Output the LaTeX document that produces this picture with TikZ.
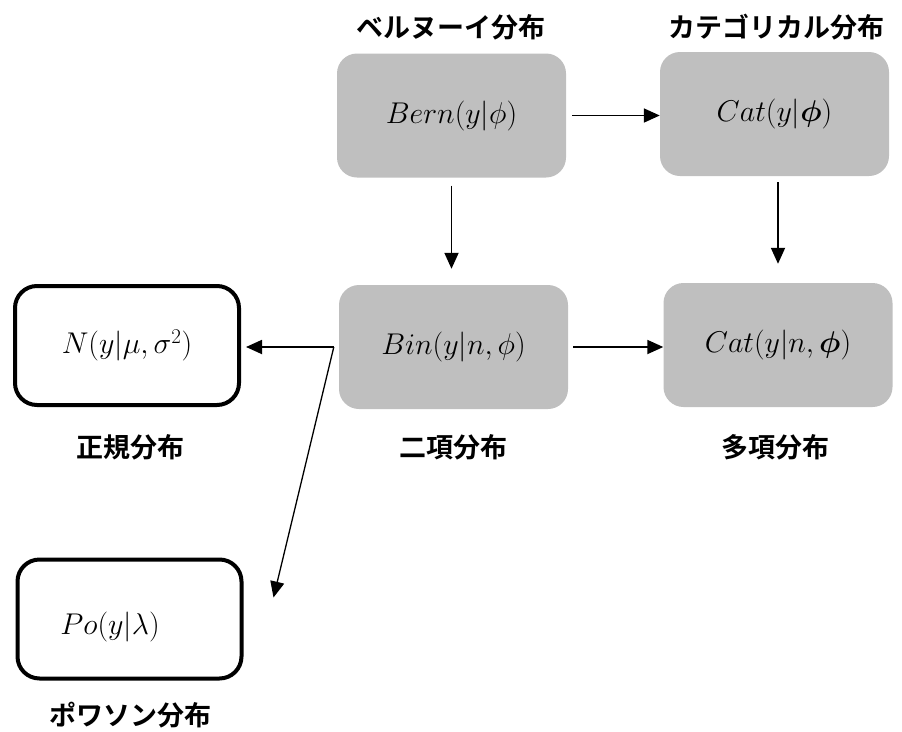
\RequirePackage{fix-cm}
\documentclass[tikz,border=0pt]{standalone}
\usepackage{amsmath,amssymb}
\usepackage{fontspec}
\newfontfamily\jp{Noto Sans CJK JP}[BoldFont={Noto Sans CJK JP Bold}]
\usetikzlibrary{arrows.meta,calc}
\definecolor{boxgray}{HTML}{BFBFBF}
\begin{document}
\begin{tikzpicture}[x=1pt,y=-1pt,
  mtext/.style={inner sep=0pt, font=\fontsize{30}{36}\selectfont},
  graybox/.style={mtext, fill=boxgray, rounded corners=20pt, minimum width=229pt, minimum height=124pt},
  whitebox/.style={mtext, draw=black, line width=4pt, fill=white, rounded corners=22pt, minimum width=224pt, minimum height=119pt},
  lbl/.style={inner sep=0pt, font=\jp\bfseries\fontsize{27}{32}\selectfont},
  conn/.style={line width=1.8pt, -{Triangle[length=16pt,width=14pt]}},
]
\useasboundingbox (0,0) rectangle (902,731);

\node[graybox] (bern) at (451.5,115.5) {$Bern(y|\phi)$};
\node[graybox] (cat) at (774.5,114) {$Cat(y|\boldsymbol{\phi})$};
\node[graybox] (bin) at (453.5,347) {$Bin(y|n,\phi)$};
\node[graybox] (catn) at (778,345) {$Cat(y|n,\boldsymbol{\phi})$};
\node[whitebox] (norm) at (127,345.5) {$N(y|\mu,\sigma^2)$};
\node[whitebox] (po) at (129.5,619) {};
\node[mtext] (potext) at (110,627) {$Po(y|\lambda)$};

\node[lbl] (lbern) at (451,27) {ベルヌーイ分布};
\node[lbl] (lcat) at (776,27) {カテゴリカル分布};
\node[lbl] (lnorm) at (130,447) {正規分布};
\node[lbl] (lbin) at (453,447) {二項分布};
\node[lbl] (lcatn) at (775,447) {多項分布};
\node[lbl] (lpo) at (130,715) {ポワソン分布};

\draw[conn, shorten <=6pt] (bern.east) -- (bern.east -| cat.west);
\draw[conn, shorten <=8pt, shorten >=16pt] (bern.south) -- (bern.south |- bin.north);
\draw[conn, shorten <=6pt, shorten >=19pt] (cat.south -| catn.north) -- (catn.north);
\draw[conn, shorten <=5pt] (bin.east) -- (bin.east -| catn.west);
\coordinate (split) at ($(bin.west)+(-5,0)$);
\draw[conn, shorten >=5pt] (split) -- (split -| norm.east);
\coordinate (potip) at ($(po.north east)+(30,40)$);
\draw[conn, line width=1.3pt] (split) -- (potip);
\end{tikzpicture}
\end{document}
